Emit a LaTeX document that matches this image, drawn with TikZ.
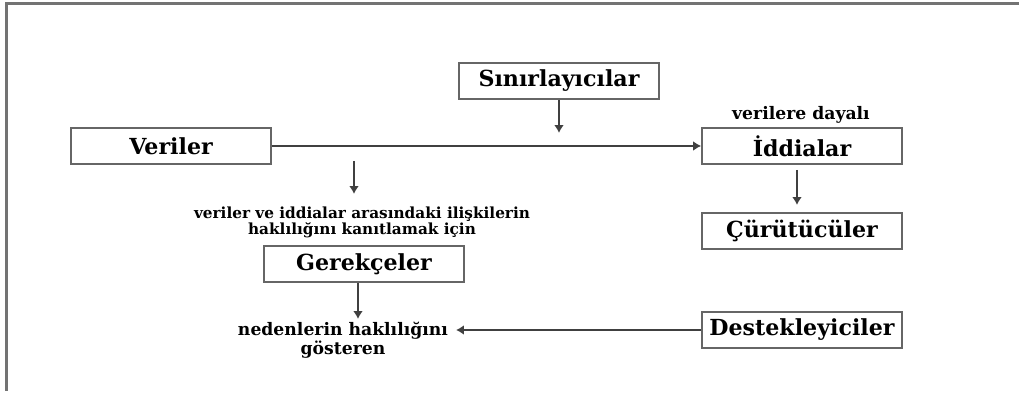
\documentclass[tikz,border=0pt]{standalone}
\usepackage{fontspec}
\setmainfont{DejaVu Serif}
\usetikzlibrary{arrows.meta}
\begin{document}
\begin{tikzpicture}[x=0.02cm, y=-0.02cm,
    box/.style={draw=black!60, line width=1.1pt, minimum width=4cm, minimum height=0.72cm, inner sep=0pt, font=\fontsize{12.6}{14}\selectfont\bfseries},
    lbl/.style={align=center, inner sep=0pt, font=\fontsize{8.7}{9}\selectfont\bfseries},
    biglbl/.style={align=center, inner sep=0pt, font=\fontsize{9.8}{9.9}\selectfont\bfseries},
    arr/.style={draw=black!75, line width=0.8pt, -{Latex[length=4.5pt, width=5.5pt]}}]
    \useasboundingbox (0,0) rectangle (1019,394);

    % Outer frame (top and left only)
    \draw[black!55, line width=1.4pt] (1019,3.5) -- (6.5,3.5) -- (6.5,391);

    % Draw the boxes
    \node[box] (veri) at (171,146) {Veriler};
    \node[box] (sinir) at (559,81) {Sınırlayıcılar};
    \node[box] (iddia) at (802,146) {İddialar};
    \node[box] (curut) at (802,231) {Çürütücüler};
    \node[box] (gerek) at (364,264) {Gerekçeler};
    \node[box] (destek) at (802,330) {Destekleyiciler};

    % Draw the labels
    \node[biglbl] (dayali) at (801,115) {verilere dayalı};
    \node[lbl] (iliski) at (362,222) {veriler ve iddialar arasındaki ilişkilerin\\haklılığını kanıtlamak için};
    \node[biglbl] (neden) at (343,340) {nedenlerin haklılığını\\gösteren};

    % Free ends of the short arrows
    \coordinate (s1) at (559,133);
    \coordinate (h0) at (354,161);
    \coordinate (h1) at (354,194);
    \coordinate (i0) at (797,170);
    \coordinate (i1) at (797,205);
    \coordinate (g1) at (358,319);
    \coordinate (d1) at (456,330);

    % Draw the arrows
    \draw[arr] (veri) -- (iddia); % data leads to claims
    \draw[arr] (sinir) -- (s1); % qualifiers
    \draw[arr] (h0) -- (h1); % down to warrant text
    \draw[arr] (i0) -- (i1); % claims to rebuttals
    \draw[arr] (gerek.south -| g1) -- (g1); % warrant to backing text
    \draw[arr] (destek) -- (d1); % backing
\end{tikzpicture}
\end{document}
